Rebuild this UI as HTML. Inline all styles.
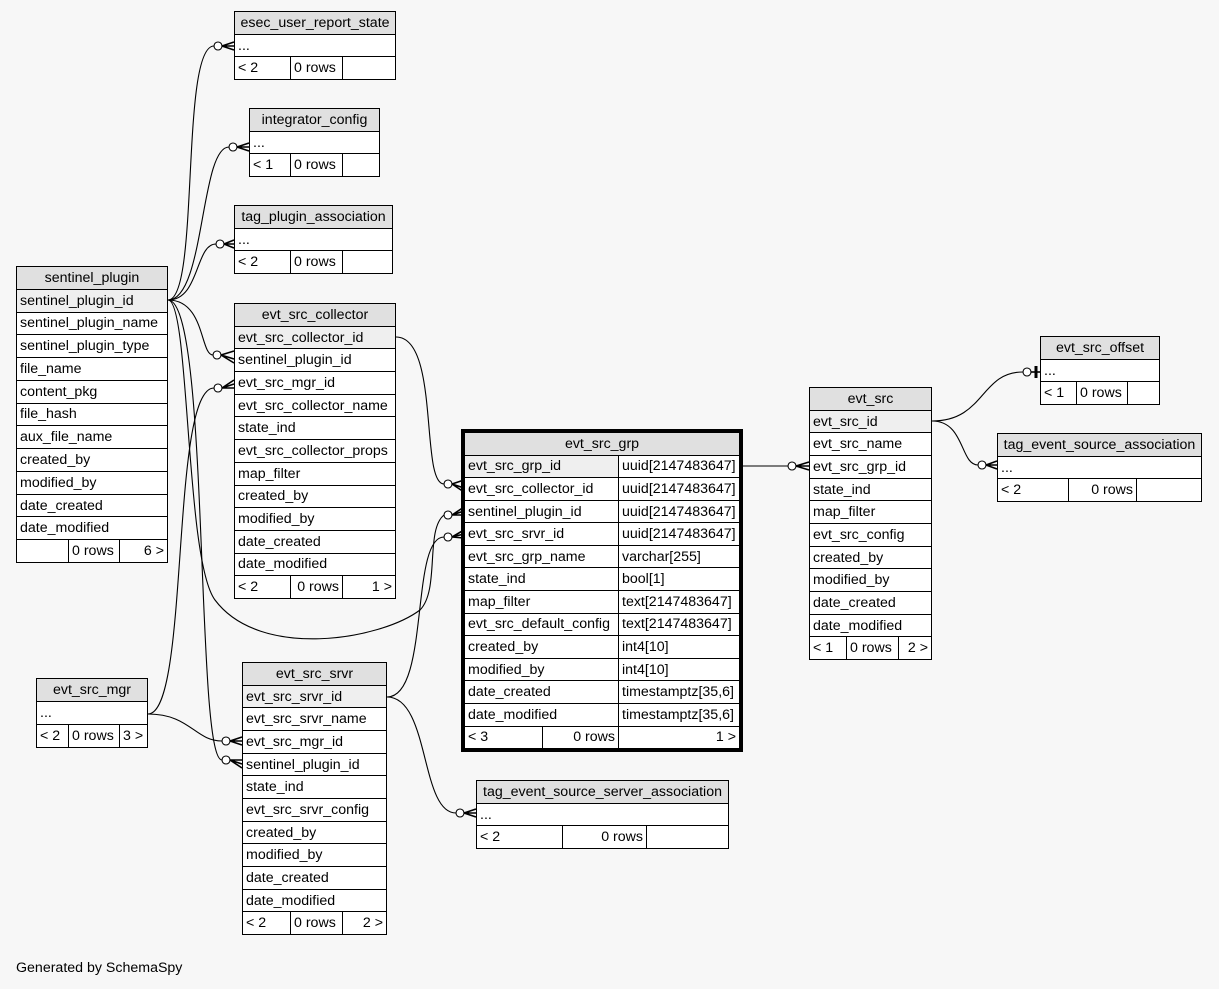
<!DOCTYPE html>
<html><head><meta charset="utf-8"><style>
body{margin:0;background:#f7f7f7;width:1219px;height:989px;position:relative;overflow:hidden;font-family:"Liberation Sans",Arial,sans-serif;font-size:14.2px;color:#000}
.t{position:absolute;border:1px solid #000;background:#fff;box-sizing:border-box;display:flex;flex-direction:column}
.r{flex:1;display:flex;border-top:1px solid #000;align-items:center;white-space:nowrap;min-height:0}
.r:first-child{border-top:none}
.h{background:#e0e0e0;justify-content:center}
.k{background:#efefef}
.c{box-sizing:border-box;height:100%;display:flex;align-items:center;padding:0 3px;border-left:1px solid #000;overflow:hidden}
.c:first-child{border-left:none}
.rt{justify-content:flex-end}
.f{flex:1}
.p{padding-left:3px}
svg{position:absolute;left:0;top:0}
</style></head><body>

<svg width="1219" height="989" fill="none" stroke="#000" stroke-width="1.1">
<path d="M168,300 C200,300 180,46 214,46"/>
<path d="M168,300 C205,300 200,147 229,147"/>
<path d="M168,300 C200,300 195,244 216,244"/>
<path d="M168,300 C205,300 200,355 213,355"/>
<path d="M168,300 C210,300 195,760 222,760"/>
<path d="M168,300 C190,300 185,560 215,600 C260,660 380,640 420,610 C440,590 425,530 444,515"/>
<path d="M148,714 C190,714 170,388 214,388"/>
<path d="M148,714 C190,714 195,741 222,741"/>
<path d="M396,337 C440,337 420,484 444,484"/>
<path d="M387,697 C430,697 410,537 444,537"/>
<path d="M387,697 C430,697 420,813 456,813"/>
<path d="M740,466 L788,466"/>
<path d="M932,421 C985,421 980,372 1023,372"/>
<path d="M932,421 C965,421 960,465 978,465"/>
<g fill="#fff">
<circle cx="218" cy="46" r="4"/><circle cx="233" cy="147" r="4"/><circle cx="220" cy="244" r="4"/>
<circle cx="217" cy="355" r="4"/><circle cx="218" cy="388" r="4"/><circle cx="226" cy="741" r="4"/>
<circle cx="226" cy="760" r="4"/><circle cx="448" cy="484" r="4"/><circle cx="448" cy="515" r="4"/>
<circle cx="448" cy="537" r="4"/><circle cx="460" cy="813" r="4"/><circle cx="792" cy="466" r="4"/>
<circle cx="1027" cy="372" r="4"/><circle cx="982" cy="465" r="4"/>
</g>
<g stroke-width="1.6">
<path d="M222,46 L234,42 M222,46 L234,46 M222,46 L234,50"/>
<path d="M237,147 L249,143 M237,147 L249,147 M237,147 L249,151"/>
<path d="M224,244 L234,240 M224,244 L234,244 M224,244 L234,248"/>
<path d="M221,355 L234,351 M221,355 L234,359 M221,355 L234,363"/>
<path d="M222,388 L234,380 M222,388 L234,384 M222,388 L234,388"/>
<path d="M230,741 L242,737 M230,741 L242,741 M230,741 L242,745"/>
<path d="M230,760 L242,760 M230,760 L242,764 M230,760 L242,768"/>
<path d="M452,484 L464,480 M452,484 L464,488 M452,484 L464,492"/>
<path d="M452,515 L464,507 M452,515 L464,511 M452,515 L464,515"/>
<path d="M452,537 L464,530 M452,537 L464,534 M452,537 L464,538"/>
<path d="M464,813 L476,809 M464,813 L476,813 M464,813 L476,817"/>
<path d="M796,466 L809,462 M796,466 L809,466 M796,466 L809,470"/>
<path d="M986,465 L997,461 M986,465 L997,465 M986,465 L997,469"/>
<path d="M1031,372 L1040,372" /><path d="M1036,366 L1036,378" stroke-width="3"/>
</g>
</svg>

<div class="t" style="left:234px;top:11px;width:162px;height:69px">
<div class="r h">esec_user_report_state</div><div class="r p">...</div>
<div class="r"><div class="c" style="width:55px">&lt; 2</div><div class="c" style="width:52px">0 rows</div><div class="c f"></div></div></div>

<div class="t" style="left:249px;top:108px;width:131px;height:69px">
<div class="r h">integrator_config</div><div class="r p">...</div>
<div class="r"><div class="c" style="width:40px">&lt; 1</div><div class="c" style="width:52px">0 rows</div><div class="c f"></div></div></div>

<div class="t" style="left:234px;top:205px;width:159px;height:69px">
<div class="r h">tag_plugin_association</div><div class="r p">...</div>
<div class="r"><div class="c" style="width:55px">&lt; 2</div><div class="c" style="width:52px">0 rows</div><div class="c f"></div></div></div>

<div class="t" style="left:16px;top:266px;width:152px;height:297px">
<div class="r h">sentinel_plugin</div>
<div class="r k p">sentinel_plugin_id</div><div class="r p">sentinel_plugin_name</div><div class="r p">sentinel_plugin_type</div>
<div class="r p">file_name</div><div class="r p">content_pkg</div><div class="r p">file_hash</div><div class="r p">aux_file_name</div>
<div class="r p">created_by</div><div class="r p">modified_by</div><div class="r p">date_created</div><div class="r p">date_modified</div>
<div class="r"><div class="c" style="width:51px"></div><div class="c" style="width:51px">0 rows</div><div class="c f rt">6 &gt;</div></div></div>

<div class="t" style="left:234px;top:303px;width:162px;height:296px">
<div class="r h">evt_src_collector</div>
<div class="r k p">evt_src_collector_id</div><div class="r p">sentinel_plugin_id</div><div class="r p">evt_src_mgr_id</div>
<div class="r p">evt_src_collector_name</div><div class="r p">state_ind</div><div class="r p">evt_src_collector_props</div>
<div class="r p">map_filter</div><div class="r p">created_by</div><div class="r p">modified_by</div><div class="r p">date_created</div><div class="r p">date_modified</div>
<div class="r"><div class="c" style="width:55px">&lt; 2</div><div class="c rt" style="width:52px">0 rows</div><div class="c f rt">1 &gt;</div></div></div>

<div style="position:absolute;left:461px;top:429px;width:282px;height:323px;border:3px solid #000;box-sizing:border-box;background:#fff"></div>
<div class="t" style="left:464px;top:432px;width:276px;height:317px">
<div class="r h">evt_src_grp</div>
<div class="r"><div class="c k" style="width:153px">evt_src_grp_id</div><div class="c f">uuid[2147483647]</div></div>
<div class="r"><div class="c" style="width:153px">evt_src_collector_id</div><div class="c f">uuid[2147483647]</div></div>
<div class="r"><div class="c" style="width:153px">sentinel_plugin_id</div><div class="c f">uuid[2147483647]</div></div>
<div class="r"><div class="c" style="width:153px">evt_src_srvr_id</div><div class="c f">uuid[2147483647]</div></div>
<div class="r"><div class="c" style="width:153px">evt_src_grp_name</div><div class="c f">varchar[255]</div></div>
<div class="r"><div class="c" style="width:153px">state_ind</div><div class="c f">bool[1]</div></div>
<div class="r"><div class="c" style="width:153px">map_filter</div><div class="c f">text[2147483647]</div></div>
<div class="r"><div class="c" style="width:153px">evt_src_default_config</div><div class="c f">text[2147483647]</div></div>
<div class="r"><div class="c" style="width:153px">created_by</div><div class="c f">int4[10]</div></div>
<div class="r"><div class="c" style="width:153px">modified_by</div><div class="c f">int4[10]</div></div>
<div class="r"><div class="c" style="width:153px">date_created</div><div class="c f">timestamptz[35,6]</div></div>
<div class="r"><div class="c" style="width:153px">date_modified</div><div class="c f">timestamptz[35,6]</div></div>
<div class="r"><div class="c" style="width:77px">&lt; 3</div><div class="c rt" style="width:76px">0 rows</div><div class="c f rt">1 &gt;</div></div></div>

<div class="t" style="left:809px;top:387px;width:123px;height:273px">
<div class="r h">evt_src</div>
<div class="r k p">evt_src_id</div><div class="r p">evt_src_name</div><div class="r p">evt_src_grp_id</div><div class="r p">state_ind</div>
<div class="r p">map_filter</div><div class="r p">evt_src_config</div><div class="r p">created_by</div><div class="r p">modified_by</div>
<div class="r p">date_created</div><div class="r p">date_modified</div>
<div class="r"><div class="c" style="width:36px">&lt; 1</div><div class="c" style="width:52px">0 rows</div><div class="c f rt">2 &gt;</div></div></div>

<div class="t" style="left:1040px;top:336px;width:120px;height:69px">
<div class="r h">evt_src_offset</div><div class="r p">...</div>
<div class="r"><div class="c" style="width:35px">&lt; 1</div><div class="c" style="width:51px">0 rows</div><div class="c f"></div></div></div>

<div class="t" style="left:997px;top:433px;width:205px;height:69px">
<div class="r h">tag_event_source_association</div><div class="r p">...</div>
<div class="r"><div class="c" style="width:70px">&lt; 2</div><div class="c rt" style="width:68px">0 rows</div><div class="c f"></div></div></div>

<div class="t" style="left:36px;top:678px;width:112px;height:70px">
<div class="r h">evt_src_mgr</div><div class="r p">...</div>
<div class="r"><div class="c" style="width:31px">&lt; 2</div><div class="c" style="width:51px">0 rows</div><div class="c f">3 &gt;</div></div></div>

<div class="t" style="left:242px;top:662px;width:145px;height:273px">
<div class="r h">evt_src_srvr</div>
<div class="r k p">evt_src_srvr_id</div><div class="r p">evt_src_srvr_name</div><div class="r p">evt_src_mgr_id</div>
<div class="r p">sentinel_plugin_id</div><div class="r p">state_ind</div><div class="r p">evt_src_srvr_config</div>
<div class="r p">created_by</div><div class="r p">modified_by</div><div class="r p">date_created</div><div class="r p">date_modified</div>
<div class="r"><div class="c" style="width:47px">&lt; 2</div><div class="c" style="width:52px">0 rows</div><div class="c f rt">2 &gt;</div></div></div>

<div class="t" style="left:476px;top:780px;width:253px;height:69px">
<div class="r h">tag_event_source_server_association</div><div class="r p">...</div>
<div class="r"><div class="c" style="width:85px">&lt; 2</div><div class="c rt" style="width:84px">0 rows</div><div class="c f"></div></div></div>

<div style="position:absolute;left:16px;top:960px">Generated by SchemaSpy</div>
</body></html>
